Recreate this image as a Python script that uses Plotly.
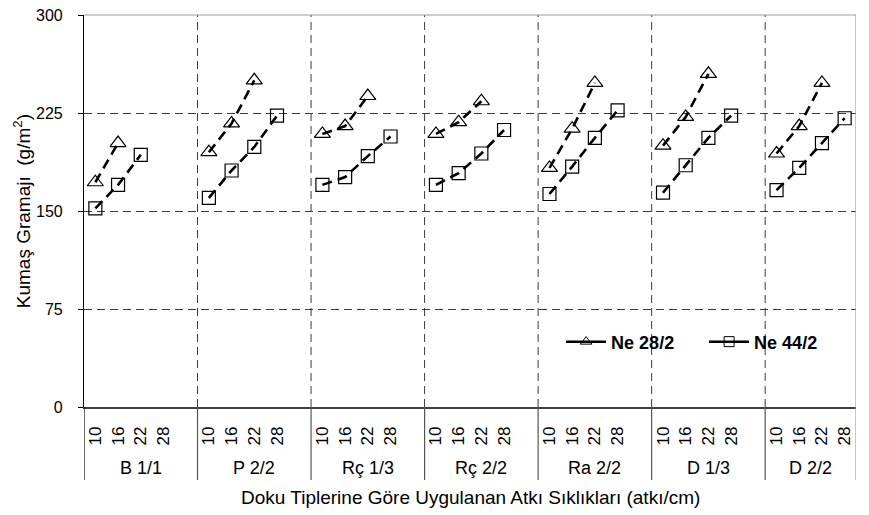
import plotly.graph_objects as go

# Weave types (outer category level) and weft densities (inner level, threads/cm)
groups = ["B 1/1", "P 2/2", "Rç 1/3", "Rç 2/2", "Ra 2/2", "D 1/3", "D 2/2"]
densities = ["10", "16", "22", "28"]

# Fabric weight (g/m²) per weave type, for each weft density
ne28 = [
    [172, 202, None, None],
    [195, 217, 250, None],
    [209, 215, 238, None],
    [209, 218, 234, None],
    [183, 213, 248, None],
    [200, 222, 255, None],
    [194, 215, 248, None],
]
ne44 = [
    [152, 170, 193, None],
    [160, 181, 199, 223],
    [170, 176, 192, 207],
    [170, 179, 194, 212],
    [163, 184, 206, 227],
    [164, 185, 206, 223],
    [166, 183, 202, 221],
]
series_names = ["Ne 28/2", "Ne 44/2"]
y_ticks = [0, 75, 150, 225, 300]

FONT = "Liberation Sans, Arial, sans-serif"

# Category slots: every group gets its densities plus an empty spacer slot
# (except the last group), so the lines break between weave types.
cats, data_cats, tick_text, spans = [], [], [], []
for gi, g in enumerate(groups):
    start = len(cats)
    for d in densities:
        cats.append(f"{g}|{d}")
        data_cats.append(f"{g}|{d}")
        tick_text.append(d)
    if gi < len(groups) - 1:
        cats.append(f"{g}|")
    spans.append((start, len(cats) - 1))


def build_series(values):
    xs, ys = [], []
    for gi, g in enumerate(groups):
        for di, d in enumerate(densities):
            xs.append(f"{g}|{d}")
            ys.append(values[gi][di])
        if gi < len(groups) - 1:
            xs.append(f"{g}|")
            ys.append(None)
    return xs, ys


fig = go.Figure()
symbols = ["triangle-up-open", "square-open"]
sizes = [14, 13]
for name, vals, sym, sz in zip(series_names, [ne28, ne44], symbols, sizes):
    xs, ys = build_series(vals)
    fig.add_trace(go.Scatter(
        x=xs, y=ys, mode="lines+markers", connectgaps=False, showlegend=False,
        line=dict(color="black", width=2.6, dash="10px,6px"),
        marker=dict(symbol=sym, size=sz, color="black", line=dict(width=1.2)),
        cliponaxis=False,
    ))
    # legend entry drawn with a solid line
    fig.add_trace(go.Scatter(
        x=[None], y=[None], mode="lines+markers", name=name,
        line=dict(color="black", width=2.5),
        marker=dict(symbol=sym, size=10, color="black", line=dict(width=1)),
    ))

shapes = []
x_lo, x_hi = -0.5, len(cats) - 0.5
# dashed vertical grid lines at the weave-type boundaries
for (s, e) in spans[:-1]:
    shapes.append(dict(type="line", xref="x", yref="y", x0=e + 0.5, x1=e + 0.5,
                       y0=y_ticks[0], y1=y_ticks[-1], layer="below",
                       line=dict(color="#3a3a3a", width=1, dash="8px,5px")))
# white area behind the legend
shapes.append(dict(type="rect", xref="paper", yref="paper", x0=0.615, x1=0.995,
                   y0=0.082, y1=0.245, layer="below", fillcolor="white",
                   line=dict(width=0)))
# plot frame (top and right)
shapes.append(dict(type="line", xref="x", yref="paper", x0=x_lo, x1=x_hi, y0=1, y1=1,
                   line=dict(color="#a0a0a0", width=1.2)))
# separators of the category label table
lab_bottom = -0.186
for i, (s, e) in enumerate(spans):
    shapes.append(dict(type="line", xref="x", yref="paper", x0=s - 0.5, x1=s - 0.5,
                       y0=0, y1=lab_bottom,
                       line=dict(color="black" if i == 0 else "#555555", width=1.2)))
shapes.append(dict(type="line", xref="x", yref="paper", x0=x_hi, x1=x_hi,
                   y0=lab_bottom, y1=1, line=dict(color="#a0a0a0", width=1.2)))

annotations = []
for g, (s, e) in zip(groups, spans):
    annotations.append(dict(text=g, xref="x", yref="paper", x=(s + e) / 2, y=-0.156,
                            showarrow=False, xanchor="center", yanchor="middle",
                            font=dict(family=FONT, size=18, color="black")))
annotations.append(dict(text="Doku Tiplerine Göre Uygulanan Atkı Sıklıkları (atkı/cm)",
                        xref="paper", yref="paper", x=0.5, y=-0.232,
                        showarrow=False, xanchor="center", yanchor="middle",
                        font=dict(family=FONT, size=19, color="black")))
annotations.append(dict(text="Kumaş Gramajı  (g/m<sup>2</sup>)",
                        xref="paper", yref="paper", x=-0.08, y=0.5, textangle=-90,
                        showarrow=False, xanchor="center", yanchor="middle",
                        font=dict(family=FONT, size=19, color="black")))

fig.update_layout(
    width=869, height=515, autosize=False,
    margin=dict(l=84, r=13, t=15, b=108, autoexpand=False),
    paper_bgcolor="white", plot_bgcolor="white",
    font=dict(family=FONT, color="black"),
    xaxis=dict(
        type="category", categoryorder="array", categoryarray=cats,
        range=[x_lo, x_hi], tickmode="array", tickvals=data_cats, ticktext=tick_text,
        tickangle=-90, ticks="", showgrid=False, zeroline=False,
        showline=True, linecolor="#404040", linewidth=1.5,
        tickfont=dict(family=FONT, size=17, color="black"),
        ticklabelstandoff=11,
    ),
    yaxis=dict(
        range=[y_ticks[0], y_ticks[-1]], tickmode="array", tickvals=y_ticks,
        ticks="outside", ticklen=5, tickcolor="black", tickwidth=1,
        showline=True, linecolor="black", linewidth=1.2,
        showgrid=True, gridcolor="#3a3a3a", griddash="8px,5px", gridwidth=1,
        zeroline=False, tickfont=dict(family=FONT, size=16, color="black"),
        ticklabelstandoff=12,
    ),
    legend=dict(
        orientation="h", x=0.618, y=0.166, xanchor="left", yanchor="middle",
        bgcolor="rgba(0,0,0,0)", font=dict(family=FONT, size=18, color="black", weight="bold"),
        itemwidth=40, entrywidth=88, entrywidthmode="pixels",
    ),
    shapes=shapes,
    annotations=annotations,
)

fig.write_html("out.html")
